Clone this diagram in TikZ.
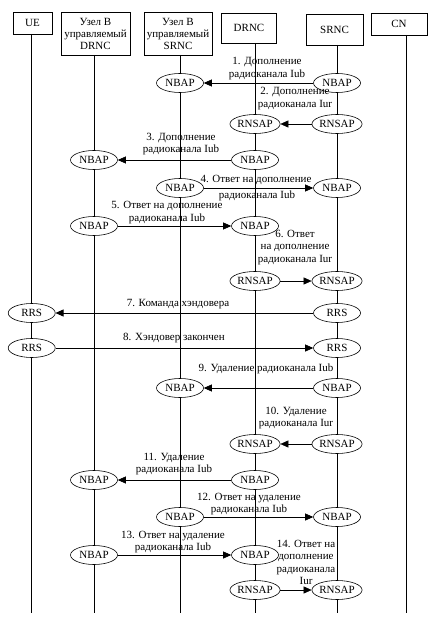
\documentclass[tikz,border=0pt]{standalone}
\usepackage{fontspec}
\setmainfont{Liberation Serif}
\usetikzlibrary{shapes.geometric,arrows.meta}
\begin{document}
\begin{tikzpicture}[x=1pt,y=-1pt,
  hdr/.style={draw,line width=0.6pt,align=center,inner sep=0pt,font=\fontsize{11}{12}\selectfont},
  ent/.style={draw,ellipse,fill=white,line width=0.6pt,minimum width=47pt,minimum height=19pt,inner sep=0pt,font=\fontsize{11}{12}\selectfont},
  life/.style={line width=0.6pt},
  msg/.style={line width=0.6pt,-{Triangle[length=8pt,width=7pt]}},
  lbl/.style={align=center,inner sep=0pt,font=\fontsize{11}{12.5}\selectfont}]
\useasboundingbox (0,0) rectangle (434,620);
% headers
\node[hdr,minimum width=39pt,minimum height=22pt] (ue) at (32.5,23) {UE};
\node[hdr,minimum width=69pt,minimum height=43pt] (nbd) at (95.5,33.5) {Узел B\\управляемый\\DRNC};
\node[hdr,minimum width=68pt,minimum height=43pt] (nbs) at (178,33.5) {Узел B\\управляемый\\SRNC};
\node[hdr,minimum width=55pt,minimum height=30pt] (drnc) at (249,28) {DRNC};
\node[hdr,minimum width=57pt,minimum height=31pt] (srnc) at (334.5,29.5) {SRNC};
\node[hdr,minimum width=56pt,minimum height=22pt] (cn) at (399,24) {CN};
% lifelines
\coordinate (ueT) at (31.7,34); \coordinate (ueB) at (31.7,613);
\coordinate (nbdT) at (94,55); \coordinate (nbdB) at (94,613);
\coordinate (nbsT) at (180,55); \coordinate (nbsB) at (180,613);
\coordinate (drncT) at (255,43); \coordinate (drncB) at (255,613);
\coordinate (srncT) at (337,45); \coordinate (srncB) at (337,613);
\coordinate (cnT) at (406,35); \coordinate (cnB) at (406,613);
\draw[life] (ueT) -- (ueB);
\draw[life] (nbdT) -- (nbdB);
\draw[life] (nbsT) -- (nbsB);
\draw[life] (drncT) -- (drncB);
\draw[life] (srncT) -- (srncB);
\draw[life] (cnT) -- (cnB);
% 1
\node[ent] (a1) at (180,83) {NBAP};
\node[ent] (b1) at (337,83) {NBAP};
\draw[msg] (b1) -- (a1);
\node[lbl] (l1) at (267,68.5) {1. Дополнение\\радиоканала Iub};
% 2
\node[ent] (a2) at (255,124) {RNSAP};
\node[ent] (b2) at (337,124) {RNSAP};
\draw[msg] (b2) -- (a2);
\node[lbl] (l2) at (295,98.5) {2. Дополнение\\радиоканала Iur};
% 3
\node[ent] (a3) at (94,160) {NBAP};
\node[ent] (b3) at (255,160) {NBAP};
\draw[msg] (b3) -- (a3);
\node[lbl] (l3) at (181,144) {3. Дополнение\\радиоканала Iub};
% 4
\node[ent] (a4) at (180,188) {NBAP};
\node[ent] (b4) at (337,188) {NBAP};
\draw[msg] (a4) -- (b4);
\node[lbl] (l4a) at (256,180) {4. Ответ на дополнение};
\node[lbl] (l4b) at (257,195.5) {радиоканала Iub};
% 5
\node[ent] (a5) at (94,226) {NBAP};
\node[ent] (b5) at (255,226) {NBAP};
\draw[msg] (a5) -- (b5);
\node[lbl] (l5) at (167,212.5) {5. Ответ на дополнение\\радиоканала Iub};
% 6
\node[ent] (a6) at (255,281) {RNSAP};
\node[ent] (b6) at (337,281) {RNSAP};
\draw[msg] (a6) -- (b6);
\node[lbl] (l6) at (295,247.5) {6. Ответ\\на дополнение\\радиоканала Iur};
% 7
\node[ent] (a7) at (31.7,313) {RRS};
\node[ent] (b7) at (337,313) {RRS};
\draw[msg] (b7) -- (a7);
\node[lbl] (l7) at (178,304) {7. Команда хэндовера};
% 8
\node[ent] (a8) at (31.7,348) {RRS};
\node[ent] (b8) at (337,348) {RRS};
\draw[msg] (a8) -- (b8);
\node[lbl] (l8) at (174,338) {8. Хэндовер закончен};
% 9
\node[ent] (a9) at (180,388) {NBAP};
\node[ent] (b9) at (337,388) {NBAP};
\draw[msg] (b9) -- (a9);
\node[lbl] (l9) at (266,369) {9. Удаление радиоканала Iub};
% 10
\node[ent] (a10) at (255,444) {RNSAP};
\node[ent] (b10) at (337,444) {RNSAP};
\draw[msg] (b10) -- (a10);
\node[lbl] (l10) at (296,418) {10. Удаление\\радиоканала Iur};
% 11
\node[ent] (a11) at (94,480) {NBAP};
\node[ent] (b11) at (255,480) {NBAP};
\draw[msg] (b11) -- (a11);
\node[lbl] (l11) at (174,464) {11. Удаление\\радиоканала Iub};
% 12
\node[ent] (a12) at (180,517) {NBAP};
\node[ent] (b12) at (337,517) {NBAP};
\draw[msg] (a12) -- (b12);
\node[lbl] (l12) at (249,504) {12. Ответ на удаление\\радиоканала Iub};
% 13
\node[ent] (a13) at (94,555) {NBAP};
\node[ent] (b13) at (255,555) {NBAP};
\draw[msg] (a13) -- (b13);
\node[lbl] (l13) at (173,542) {13. Ответ на удаление\\радиоканала Iub};
% 14
\node[ent] (a14) at (255,590) {RNSAP};
\node[ent] (b14) at (337,590) {RNSAP};
\draw[msg] (a14) -- (b14);
\node[lbl] (l14) at (306,562.5) {14. Ответ на\\дополнение\\радиоканала\\Iur};
\end{tikzpicture}
\end{document}
